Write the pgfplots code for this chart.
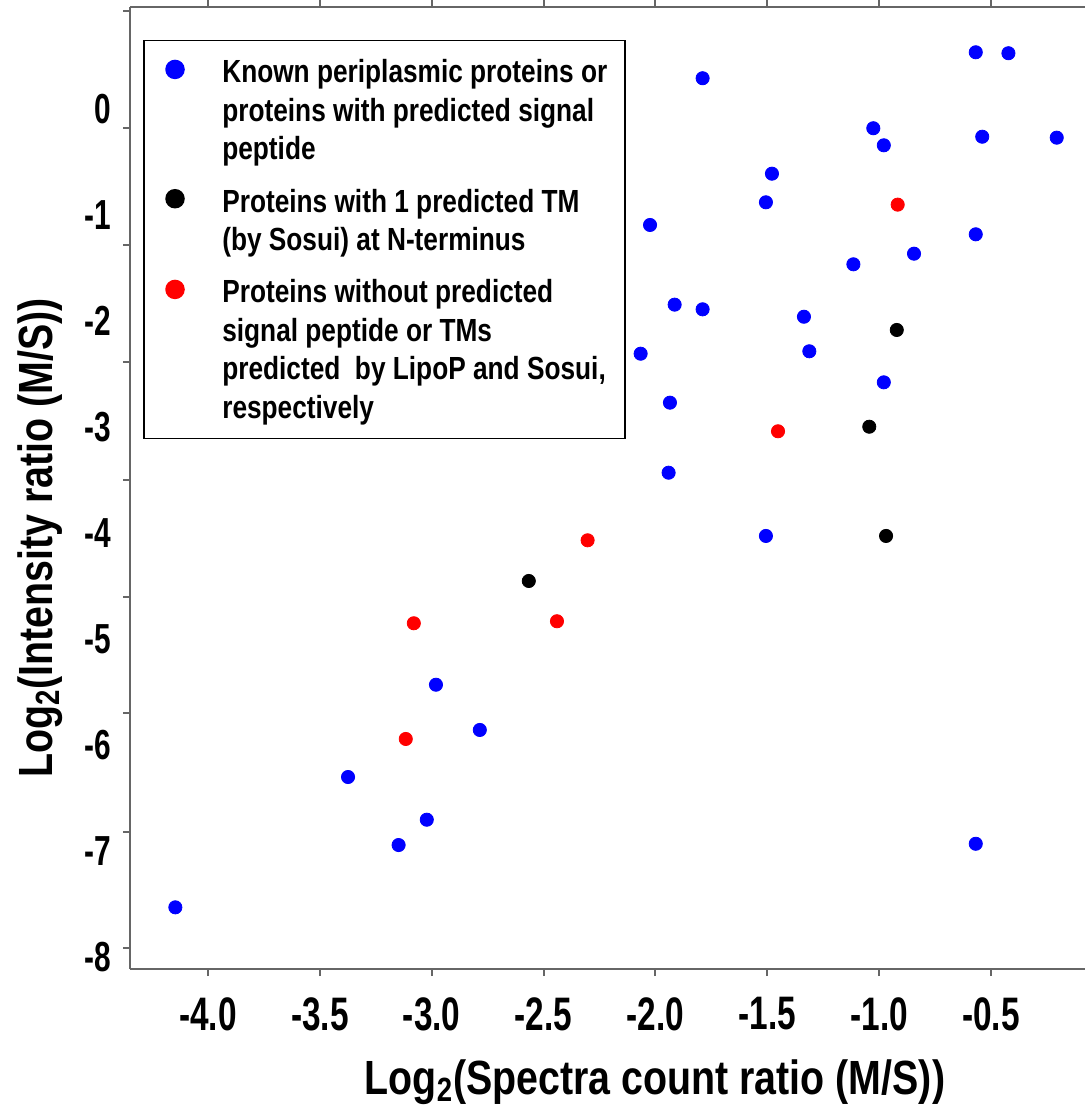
\documentclass[border=0pt]{standalone}
\usepackage{fontspec}
\setmainfont{Liberation Sans}[FakeStretch=0.82]
\newfontfamily\tickfont{Liberation Sans}[FakeStretch=0.71]
\usepackage{pgfplots}
\pgfplotsset{compat=1.18}
\begin{document}
\begin{tikzpicture}
\useasboundingbox (0,0) rectangle (542.5pt,556.5pt);
\begin{axis}[
  at={(65pt,72pt)}, anchor=south west,
  scale only axis, width=477.5pt, height=481pt,
  xmin=-4.3487, xmax=-0.0796, ymin=-8.114, ymax=0.9655,
  clip=false,
  axis x line=box, axis y line=left,
  x axis line style={-}, y axis line style={-},
  axis line style={draw=black!60, line width=1pt},
  tick style={draw=black!60, line width=1pt},
  tick align=outside,
  major tick length=3.5pt,
  xtick={-4,-3.5,-3,-2.5,-2,-1.5,-1,-0.5},
  xticklabels={-4.0,-3.5,-3.0,-2.5,-2.0,-1.5,-1.0,-0.5},
  ytick={0.928,-0.1728,-1.2832,-2.3876,-3.4988,-4.603,-5.698,-6.821,-7.916},
  yticklabels={},
  extra y ticks={0,-1,-2,-3,-4,-5,-6,-7,-8},
  extra y tick labels={0,-1,-2,-3,-4,-5,-6,-7,-8},
  extra y tick style={major tick length=0pt},
  xticklabel style={anchor=north, inner sep=0pt, yshift=-10.5pt,
    font=\tickfont\fontsize{23.5}{28}\selectfont\bfseries},
  yticklabel style={anchor=east, inner sep=0pt, xshift=-9.5pt,
    font=\tickfont\fontsize{21}{25}\selectfont\bfseries},
  every axis x label/.style={at={(rel axis cs:0.5497,-0.1175)}, anchor=center,
    font=\fontsize{24}{28}\selectfont\bfseries},
  every axis y label/.style={at={(rel axis cs:-0.0942,0.448)}, rotate=90, anchor=center,
    font=\fontsize{24}{28}\selectfont\bfseries},
  xlabel={Log\textsubscript{2}(Spectra count ratio (M/S))},
  ylabel={Log\textsubscript{2}(Intensity ratio (M/S))},
  legend cell align=left,
  legend image post style={mark size=4.5pt, yshift=-1.5pt},
  legend style={at={(0,1)}, anchor=north west, xshift=6.5pt, yshift=-16.5pt,
    draw=black, line width=0.75pt, inner xsep=7.1pt, inner ysep=3.2pt,
    font=\fontsize{16}{19.5}\selectfont\bfseries,
    nodes={inner ysep=0pt, inner xsep=2pt}, row sep=0pt, column sep=17.15pt},
]
\addplot[only marks, mark=*, mark size=3.3pt, color=blue, fill=blue] table {
x y
-0.568 0.538
-0.422 0.529
-1.789 0.293
-1.026 -0.179
-0.539 -0.259
-0.206 -0.268
-0.979 -0.340
-1.479 -0.608
-1.506 -0.878
-2.024 -1.092
-0.568 -1.180
-0.844 -1.363
-1.115 -1.463
-1.914 -1.844
-1.789 -1.888
-1.336 -1.958
-2.066 -2.307
-1.312 -2.284
-0.979 -2.577
-1.935 -2.769
-1.941 -3.430
-1.506 -4.027
-0.568 -6.932
-2.981 -5.431
-2.785 -5.858
-3.374 -6.302
-3.022 -6.705
-3.148 -6.944
-4.146 -7.532
};
\addlegendentry{\rule{0pt}{17.8pt}\strut\makebox[192.15pt][l]{Known periplasmic proteins or}}
\addlegendimage{empty legend}
\addlegendentry{\rule{0pt}{17.8pt}\strut proteins with predicted signal}
\addlegendimage{empty legend}
\addlegendentry{\rule{0pt}{17.8pt}\strut peptide}
\addlegendimage{empty legend}
\addlegendentry{\rule{0pt}{5.25pt}}
\addplot[only marks, mark=*, mark size=3.3pt, color=black, fill=black] table {
x y
-0.921 -2.083
-1.044 -2.996
-0.969 -4.027
-2.566 -4.452
};
\addlegendentry{\rule{0pt}{17.8pt}\strut Proteins with 1 predicted TM}
\addlegendimage{empty legend}
\addlegendentry{\rule{0pt}{17.8pt}\strut (by Sosui) at N-terminus}
\addlegendimage{empty legend}
\addlegendentry{\rule{0pt}{5.25pt}}
\addplot[only marks, mark=*, mark size=3.3pt, color=red, fill=red] table {
x y
-0.917 -0.900
-1.452 -3.039
-2.303 -4.068
-3.080 -4.851
-2.440 -4.832
-3.116 -5.943
};
\addlegendentry{\rule{0pt}{17.8pt}\strut Proteins without predicted}
\addlegendimage{empty legend}
\addlegendentry{\rule{0pt}{17.8pt}\strut signal peptide or TMs}
\addlegendimage{empty legend}
\addlegendentry{\rule{0pt}{17.8pt}\strut predicted\ \ by LipoP and Sosui,}
\addlegendimage{empty legend}
\addlegendentry{\rule{0pt}{17.8pt}\strut respectively}
\addlegendimage{empty legend}
\addlegendentry{\rule{0pt}{3.75pt}}
\end{axis}
\end{tikzpicture}
\end{document}
